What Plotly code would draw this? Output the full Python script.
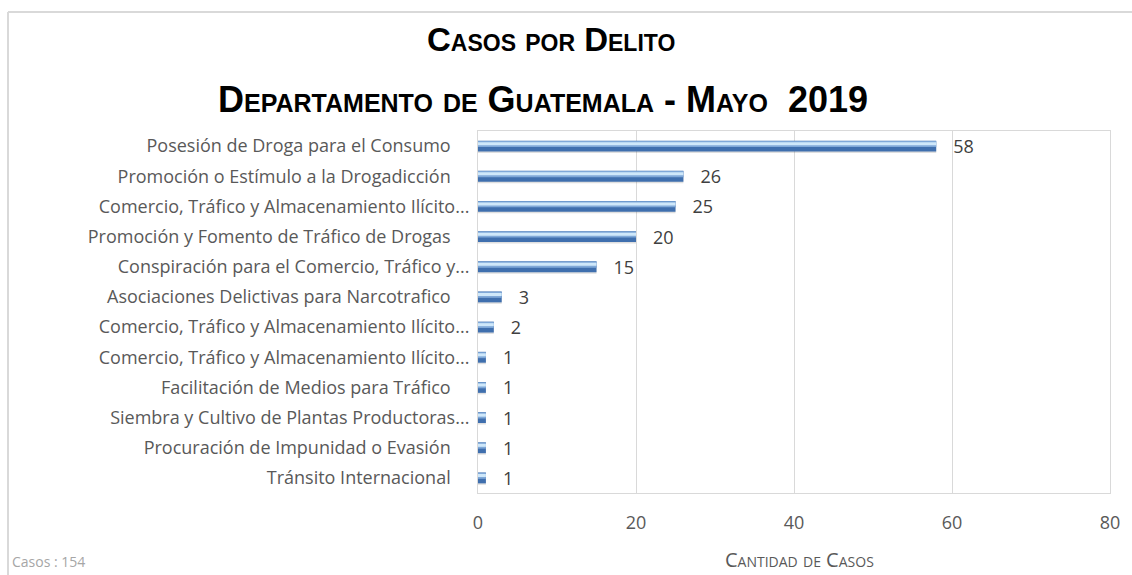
import plotly.graph_objects as go

categories = [
    "Posesión de Droga para el Consumo",
    "Promoción o Estímulo a la Drogadicción",
    "Comercio, Tráfico y Almacenamiento Ilícito...",
    "Promoción y Fomento de Tráfico de Drogas",
    "Conspiración para el Comercio, Tráfico y...",
    "Asociaciones Delictivas para Narcotrafico",
    "Comercio, Tráfico y Almacenamiento Ilícito...",
    "Comercio, Tráfico y Almacenamiento Ilícito...",
    "Facilitación de Medios para Tráfico",
    "Siembra y Cultivo de Plantas Productoras...",
    "Procuración de Impunidad o Evasión",
    "Tránsito Internacional",
]
values = [58, 26, 25, 20, 15, 3, 2, 1, 1, 1, 1, 1]
x_ticks = [0, 20, 40, 60, 80]
total_label = "Casos : 154"

pos = list(range(len(categories)))
ticktext = [c if c.endswith("...") else c + "\u00a0\u00a0\u00a0\u00a0" for c in categories]

# plot area in pixels
L, R, T, B = 478, 1110, 131, 493
W, H = 1132, 575
def px(xp):
    return (xp - L) / (R - L)
def py(yp):
    return (B - yp) / (B - T)

FONT = "Open Sans"

fig = go.Figure()
# shadow
fig.add_trace(go.Bar(
    y=pos, x=values, orientation="h", width=0.36, offset=-0.13,
    marker=dict(color="rgba(80,80,80,0.18)", line_width=0),
    hoverinfo="skip", showlegend=False))
# main bar
fig.add_trace(go.Bar(
    y=pos, x=values, orientation="h", width=0.36, offset=-0.18,
    marker=dict(color="#3f6fae", line_width=0),
    texttemplate="\u00a0\u00a0\u00a0%{x}", textposition="outside", cliponaxis=False,
    constraintext="none",
    textfont=dict(family=FONT, size=18, color="#404040"),
    showlegend=False))
# mid tone
fig.add_trace(go.Bar(
    y=pos, x=values, orientation="h", width=0.2, offset=-0.17,
    marker=dict(color="#7fa8d8", line_width=0),
    hoverinfo="skip", showlegend=False))
# highlight
fig.add_trace(go.Bar(
    y=pos, x=values, orientation="h", width=0.1, offset=-0.13,
    marker=dict(color="#cfe8fa", line_width=0),
    hoverinfo="skip", showlegend=False))

fig.update_layout(
    width=W, height=H,
    margin=dict(l=L, r=W - R, t=T, b=H - B),
    barmode="overlay",
    paper_bgcolor="white", plot_bgcolor="white",
    font=dict(family=FONT, color="#595959"),
    xaxis=dict(range=[0, 80], tickvals=x_ticks, showgrid=True, gridcolor="#d9d9d9",
               gridwidth=1, zeroline=False, showline=True, linecolor="#d9d9d9",
               mirror=True, linewidth=1, ticks="", ticklabelstandoff=13,
               tickfont=dict(size=18, color="#595959")),
    yaxis=dict(tickvals=pos, ticktext=ticktext, range=[len(categories) - 0.5, -0.5],
               showgrid=False, zeroline=False, showline=True, linecolor="#d9d9d9",
               mirror=True, linewidth=1, ticks="", ticklabelstandoff=4,
               tickfont=dict(size=18, color="#595959")),
)

fig.add_annotation(text="<b>Casos por Delito</b>", xref="paper", yref="paper",
                   x=px(551), y=py(39), xanchor="center", yanchor="middle", showarrow=False,
                   font=dict(family="Liberation Sans", size=33, color="#000000", variant="small-caps"))
fig.add_annotation(text="<b>Departamento de Guatemala - Mayo  2019</b>", xref="paper", yref="paper",
                   x=px(543), y=py(99), xanchor="center", yanchor="middle", showarrow=False,
                   font=dict(family="Liberation Sans", size=36, color="#000000", variant="small-caps"))
fig.add_annotation(text="Cantidad de Casos", xref="paper", yref="paper",
                   x=px(799), y=py(559), xanchor="center", yanchor="middle", showarrow=False,
                   font=dict(family=FONT, size=20, color="#595959", variant="small-caps"))
fig.add_annotation(text=total_label, xref="paper", yref="paper",
                   x=px(10), y=py(561), xanchor="left", yanchor="middle", showarrow=False,
                   font=dict(family=FONT, size=14, color="#a6a6a6"))

# outer chart frame (top and left edges visible)
fig.add_shape(type="line", xref="paper", yref="paper", x0=px(8), y0=py(12), x1=px(1140), y1=py(12),
              line=dict(color="#d9d9d9", width=2))
fig.add_shape(type="line", xref="paper", yref="paper", x0=px(8), y0=py(12), x1=px(8), y1=py(580),
              line=dict(color="#d9d9d9", width=2))

fig.write_html("out.html", config={"displayModeBar": False},
               post_script="document.body.style.margin='0';")
